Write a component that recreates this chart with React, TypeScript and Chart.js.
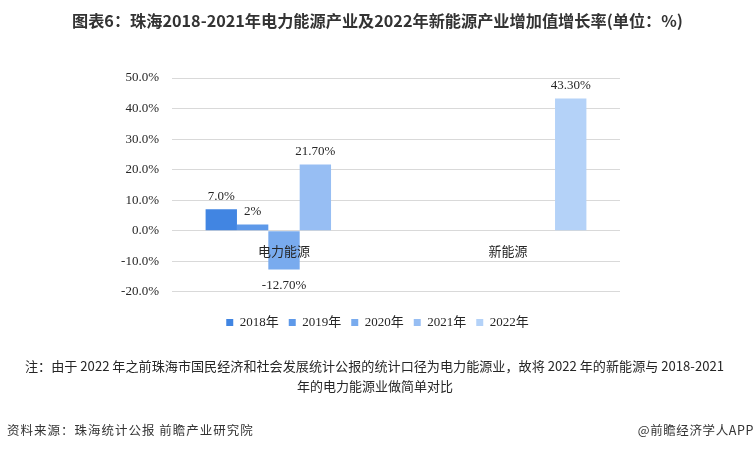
import React, { useEffect, useLayoutEffect, useRef } from 'react';
import { Chart, registerables } from 'chart.js';

Chart.register(...registerables);

const categories = ['电力能源', '新能源'];
const seriesNames = ['2018年', '2019年', '2020年', '2021年', '2022年'];
const values2018 = [7.0, null];
const values2019 = [2, null];
const values2020 = [-12.7, null];
const values2021 = [21.7, null];
const values2022 = [null, 43.3];
const labels2018 = ['7.0%', ''];
const labels2019 = ['2%', ''];
const labels2020 = ['-12.70%', ''];
const labels2021 = ['21.70%', ''];
const labels2022 = ['', '43.30%'];
const yMin = -20;
const yMax = 50;
const yStep = 10;

const seriesValues = [values2018, values2019, values2020, values2021, values2022];
const seriesLabels = [labels2018, labels2019, labels2020, labels2021, labels2022];
const seriesColors = ['#4185e2', '#5e99e9', '#79abee', '#97bef3', '#b4d2f8'];

const SERIF = '"Liberation Serif", "Times New Roman", "Noto Sans CJK SC", serif';
const SANS = '"Noto Sans CJK SC", "Noto Sans", sans-serif';
const TEXT = '#262626';

const valueLabelPlugin = {
  id: 'valueLabels',
  afterDatasetsDraw(chart: any) {
    const ctx = chart.ctx;
    ctx.save();
    ctx.font = '13px ' + SERIF;
    ctx.fillStyle = TEXT;
    ctx.textAlign = 'center';
    ctx.textBaseline = 'middle';
    chart.data.datasets.forEach((ds: any, i: number) => {
      const meta = chart.getDatasetMeta(i);
      meta.data.forEach((el: any, j: number) => {
        const v = ds.data[j];
        if (v === null || v === undefined) return;
        const text = seriesLabels[i][j];
        if (!text) return;
        const y = v >= 0 ? el.y - 13 : el.y + 16;
        ctx.fillText(text, el.x, y);
      });
    });
    ctx.restore();
  },
};

function ChartCanvas() {
  const ref = useRef<HTMLCanvasElement | null>(null);
  useEffect(() => {
    if (!ref.current) return;
    const chart = new Chart(ref.current, {
      type: 'bar',
      data: {
        labels: categories,
        datasets: seriesNames.map((name, i) => ({
          label: name,
          data: seriesValues[i],
          backgroundColor: seriesColors[i],
          borderColor: seriesColors[i],
          borderWidth: 0,
          categoryPercentage: 0.7,
          barPercentage: 1,
          yAxisID: 'y',
        })),
      },
      options: {
        animation: false,
        responsive: false,
        maintainAspectRatio: false,
        layout: { padding: { left: 121, right: 121, top: 78, bottom: 112 } },
        scales: {
          x: {
            position: { y: 0 } as any,
            grid: { display: false },
            border: { display: false },
            ticks: {
              z: 1,
              padding: 5,
              font: { family: SANS, size: 13 },
              color: TEXT,
            },
          },
          y: {
            position: 'left',
            min: yMin,
            max: yMax,
            ticks: {
              stepSize: yStep,
              padding: 13,
              font: { family: SERIF, size: 13 },
              color: TEXT,
              callback: (v: any) => Number(v).toFixed(1) + '%',
            },
            grid: { color: '#d9d9d9', drawTicks: false },
            border: { display: false },
            afterFit: (s: any) => {
              s.width = 51;
            },
          },
          yRight: {
            type: 'linear',
            position: 'right',
            display: true,
            grid: { display: false },
            border: { display: false },
            ticks: { display: false },
            afterFit: (s: any) => {
              s.width = 14;
            },
          },
        },
        plugins: {
          legend: {
            position: 'bottom',
            labels: {
              boxWidth: 7,
              boxHeight: 7,
              padding: 10,
              font: { family: SERIF, size: 13 },
              color: TEXT,
            },
            title: {
              display: true,
              text: ' ',
              font: { size: 1 },
              padding: { top: 0, bottom: 13 },
            },
          },
          tooltip: { enabled: false },
        },
      },
      plugins: [valueLabelPlugin],
    } as any);
    return () => chart.destroy();
  }, []);
  return (
    <canvas
      ref={ref}
      width={755}
      height={451}
      style={{ position: 'absolute', left: 0, top: 0, width: 755, height: 451 }}
    />
  );
}

function FitText(props: { text: string; target: number; style: React.CSSProperties; origin: string }) {
  const ref = useRef<HTMLSpanElement | null>(null);
  useLayoutEffect(() => {
    const el = ref.current;
    if (!el) return;
    el.style.transform = 'none';
    const w = el.getBoundingClientRect().width;
    if (w > 0) el.style.transform = `scaleX(${props.target / w})`;
  }, [props.text, props.target]);
  return (
    <span
      ref={ref}
      style={{ display: 'inline-block', whiteSpace: 'nowrap', transformOrigin: props.origin, ...props.style }}
    >
      {props.text}
    </span>
  );
}

export default function App() {
  return (
    <div
      style={{
        position: 'absolute',
        left: 0,
        top: 0,
        width: 755,
        height: 451,
        background: '#ffffff',
        overflow: 'hidden',
        fontFamily: SANS,
      }}
    >
      <ChartCanvas />
      <div style={{ position: 'absolute', left: 72, top: 10, height: 20, lineHeight: '20px' }}>
        <FitText
          text="图表6：珠海2018-2021年电力能源产业及2022年新能源产业增加值增长率(单位：%)"
          target={611}
          origin="left center"
          style={{ fontSize: 16, fontWeight: 700, color: '#333333', lineHeight: '20px' }}
        />
      </div>
      <div style={{ position: 'absolute', left: 25, top: 355, height: 18, lineHeight: '18px' }}>
        <FitText
          text="注：由于 2022 年之前珠海市国民经济和社会发展统计公报的统计口径为电力能源业，故将 2022 年的新能源与 2018-2021"
          target={699}
          origin="left center"
          style={{ fontSize: 13, color: TEXT, lineHeight: '18px' }}
        />
      </div>
      <div
        style={{
          position: 'absolute',
          left: 275,
          width: 200,
          top: 377,
          height: 18,
          lineHeight: '18px',
          textAlign: 'center',
          fontSize: 13,
          color: TEXT,
          whiteSpace: 'nowrap',
        }}
      >
        年的电力能源业做简单对比
      </div>
      <div
        style={{
          position: 'absolute',
          left: 7,
          top: 421,
          height: 18,
          lineHeight: '18px',
          fontSize: 12.5,
          letterSpacing: 1,
          color: '#333333',
          whiteSpace: 'nowrap',
        }}
      >
        资料来源：珠海统计公报 前瞻产业研究院
      </div>
      <div
        style={{
          position: 'absolute',
          right: 1,
          top: 421,
          height: 18,
          lineHeight: '18px',
          fontSize: 12.5,
          letterSpacing: 0.6,
          color: '#333333',
          whiteSpace: 'nowrap',
        }}
      >
        @前瞻经济学人APP
      </div>
    </div>
  );
}
